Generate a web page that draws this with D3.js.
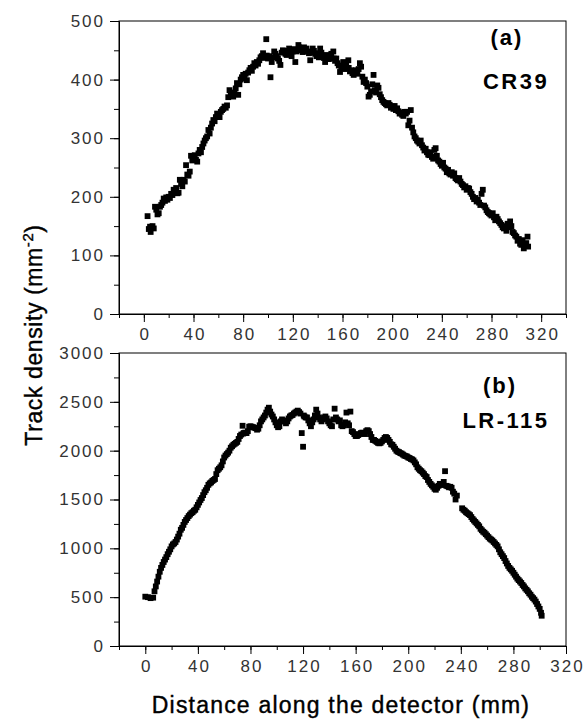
<!DOCTYPE html>
<html>
<head>
<meta charset="utf-8">
<script src="https://cdn.jsdelivr.net/npm/d3@7/dist/d3.min.js"></script>
<style>
  body { margin: 0; background: #fff; }
  svg { display: block; }
  .tick text { font-family: "Liberation Sans", Arial, sans-serif; font-size: 17px; fill: #333; letter-spacing: 2px; }
  .domain, .tick line { stroke: #000; }
</style>
</head>
<body>
<div id="chart"></div>
<script>
// CR39 track density (panel a): [distance mm, density mm^-2]
const cr39 = [
  [3,167],[4,145],[5,149],[5.5,140],[7,150],[8,146],[9,183],[10,178],[11,170],[12,172],
  [13,183],[14,186],[15,190],[16,197],[17,193],[18,199],[19,195],[20,200],[21,198],[22,205],
  [23,203],[24,212],[25,208],[26,215],[27,206],[28,207],[29,229],[30,222],[31,218],[32,229],
  [33,226],[34,254],[35,238],[36,236],[37,243],[38,270],[39,262],[40,268],[41,271],[42,263],
  [43,260],[44,274],[45,280],[46,276],[47,285],[48,291],[49,296],[50,300],[51,303],[52,314],
  [53,308],[54,318],[55,325],[56,331],[57,329],[58,336],[59,342],[60,337],[61,336],[62,345],
  [63,348],[64,350],[65,354],[66,352],[67,356],[68,370],[69,382],[70,378],[71,374],[72,371],
  [73,376],[74,385],[75,394],[76,374],[77,392],[78,400],[79,404],[80,408],[81,402],[82,410],
  [83,399],[84,412],[85,416],[86,420],[87,415],[88,422],[89,428],[90,424],[91,430],[92,427],
  [93,433],[94,438],[95,440],[96,445],[97,437],[98.6,469],[99,441],[100,436],[101,440],[102,404],
  [103,430],[104,438],[105,448],[106,444],[107,440],[108,436],[109,432],[110,425],[111,446],[112,450],
  [113,447],[114,444],[115,442],[116,449],[117,453],[118,446],[119,440],[120,448],[121,452],[122,430],
  [123,448],[124.5,459],[125,455],[126,450],[127,452],[128,447],[129,455],[130,451],[131,453],[132,448],
  [133,445],[134,433],[135,446],[136,453],[137,449],[138,444],[139,440],[140,445],[141,438],[142,453],
  [143,446],[144,440],[145,437],[146,430],[147,442],[148,438],[149,435],[150,440],[151,444],[152.6,448],
  [153,436],[154,432],[155,436],[156,428],[157,424],[158,413],[159,420],[160.6,430],[161,422],[162,418],
  [163,425],[164.7,433],[165,420],[166,414],[167,416],[168,411],[169,408],[170,414],[171,416],[172,410],
  [173,418],[174,428],[175,422],[176,405],[177,396],[178,400],[179,394],[180,388],[181,371],[182,374],
  [183,380],[184,392],[185,408],[186,382],[187,378],[188,390],[189,386],[190,375],[191,370],[192,365],
  [193,362],[194,360],[195,358],[196,356],[197,360],[198,357],[199,352],[200,354],[201,350],[202,355],
  [203,348],[204,351],[205,346],[206,342],[207,344],[208,340],[209,338],[210,345],[211,342],[212,345],
  [213,322],[214,330],[215,348],[216,318],[217,310],[218,303],[219,300],[220,296],[221,294],[222,291],
  [223,296],[224,288],[225,284],[226,279],[227,282],[228,276],[229,272],[230,271],[231,276],[232,268],
  [233,265],[234,280],[235,283],[236,270],[237,262],[238,260],[239,256],[240,253],[241,258],[242,250],
  [243,248],[244,242],[245,246],[246,240],[247,238],[248,242],[249,236],[250,240],[251,232],[252,230],
  [253,228],[254,232],[255,226],[256,222],[257,220],[258,216],[259,218],[260,212],[261,215],[262,214],
  [263,208],[264,205],[265,200],[266,196],[267,198],[268,192],[269,195],[270,190],[271,186],[272,205],
  [273,212],[274,185],[275,182],[276,177],[277,174],[278,172],[279,170],[280,168],[281,172],[282,165],
  [283,160],[284,166],[285,162],[286,158],[287,155],[288,152],[289,148],[290,146],[291,150],[292,142],
  [293,154],[294,148],[295,158],[296,150],[297,140],[298,138],[299,134],[300,132],[301,125],[302,128],
  [303,120],[304,118],[305,126],[306,112],[307,118],[308,121],[309,132],[309.5,115]
];

// LR-115 track density (panel b)
const lr115 = [
  [0,505],[2,500],[4,490],[6,495],[7,560],[8,610],[9,660],[10,710],[11,760],[12,800],
  [13,830],[14,860],[15,885],[16,910],[17,940],[18,965],[19,990],[20,1020],[21,1040],[22,1050],
  [23,1065],[24,1090],[25,1120],[26,1150],[27,1190],[28,1210],[29,1240],[30,1270],[31,1290],[32,1310],
  [33,1330],[34,1345],[35,1360],[36,1370],[37,1385],[38,1395],[39,1420],[40,1445],[41,1470],[42,1495],
  [43,1515],[44,1545],[45,1575],[46,1595],[47,1620],[48,1650],[49,1665],[50,1675],[51,1690],[52,1700],
  [53,1710],[54,1760],[55,1800],[56,1815],[57,1830],[58,1850],[59,1890],[60,1930],[61,1950],[62,1965],
  [63,1980],[64,2000],[65,2030],[66,2045],[67,2060],[68,2070],[69,2080],[70,2090],[71,2120],[72,2150],
  [73,2165],[74,2255],[74.5,2175],[75,2180],[76,2185],[77,2180],[78,2200],[79,2245],[80,2250],[81,2245],
  [82,2240],[83,2235],[84,2230],[85,2215],[86,2225],[87,2260],[88,2300],[89,2320],[90,2340],[91,2360],
  [92,2390],[93,2420],[94,2440],[95,2400],[96,2370],[97,2350],[98,2320],[99,2290],[100,2260],[101,2240],
  [102,2250],[103,2300],[104,2320],[105,2310],[106,2300],[107,2280],[108,2300],[109,2330],[110,2350],[111,2360],
  [112,2365],[113,2380],[114,2390],[115,2400],[116,2410],[117,2395],[118,2380],[119,2180],[120,2040],[120.5,2360],
  [121,2350],[122,2340],[123,2340],[124,2310],[125,2280],[126,2250],[127,2290],[128,2320],[129,2360],[130,2420],
  [131,2380],[132,2340],[133,2320],[134,2300],[135,2320],[136,2340],[137,2350],[138,2330],[139,2300],[140,2280],
  [141,2260],[142,2250],[143,2320],[144,2430],[145,2340],[146,2320],[147,2300],[148,2310],[149,2260],[150,2250],
  [151,2260],[152,2290],[153,2390],[154,2280],[155,2260],[156,2400],[157,2200],[158,2190],[159,2170],[160,2150],
  [161,2150],[162,2160],[163,2170],[164,2180],[165,2185],[166,2180],[167,2170],[168,2200],[169,2210],[170,2200],
  [171,2170],[172,2140],[173,2110],[174,2110],[175,2100],[176,2090],[177,2080],[178,2075],[179,2080],[180,2095],
  [181,2110],[182,2130],[183,2140],[184,2130],[185,2110],[186,2090],[187,2065],[188,2060],[189,2040],[190,2020],
  [191,2000],[192,1990],[193,1985],[194,1975],[195,1970],[196,1960],[197,1950],[198,1945],[199,1940],[200,1930],
  [201,1925],[202,1915],[203,1910],[204,1900],[205,1880],[206,1860],[207,1830],[208,1815],[209,1800],[210,1790],
  [211,1775],[212,1760],[213,1740],[214,1730],[215,1700],[216,1680],[217,1660],[218,1645],[219,1630],[220,1610],
  [221,1600],[222,1620],[223,1640],[224,1660],[225,1650],[226,1650],[227,1680],[228,1790],[229,1640],[230,1635],
  [231,1625],[232,1630],[233,1620],[234,1580],[235,1560],[236,1500],[237,1540],[241,1410],[242,1395],[243,1385],
  [244,1370],[245,1360],[246,1350],[247,1340],[248,1320],[249,1300],[250,1285],[251,1270],[252,1255],[253,1240],
  [254,1225],[255,1200],[256,1185],[257,1170],[258,1160],[259,1145],[260,1130],[261,1115],[262,1100],[263,1090],
  [264,1080],[265,1065],[266,1050],[267,1035],[268,1020],[269,990],[270,960],[271,940],[272,920],[273,900],
  [274,870],[275,845],[276,820],[277,800],[278,785],[279,770],[280,750],[281,730],[282,710],[283,690],
  [284,675],[285,660],[286,645],[287,625],[288,610],[289,590],[290,575],[291,560],[292,540],[293,525],
  [294,505],[295,490],[296,475],[297,455],[298,430],[299,405],[300,380],[301,340],[301.5,310]
];

const xMajor = [0, 40, 80, 120, 160, 200, 240, 280, 320];
const yMajorA = [0, 100, 200, 300, 400, 500];
const yMajorB = [0, 500, 1000, 1500, 2000, 2500, 3000];

const width = 583, height = 721;
const left = 119, right = 566;
const marker = 5.8;

const svg = d3.select('#chart').append('svg')
  .attr('width', width)
  .attr('height', height);

svg.append('rect').attr('width', width).attr('height', height).attr('fill', '#fff');

const panels = [
  {data: cr39, top: 21, bottom: 314, xDom: [-20, 340], yDom: [0, 500], yMajor: yMajorA, yStep: 50,
   label: '(a)', name: 'CR39', lx: 507, ly: 45, nx: 516, ny: 89},
  {data: lr115, top: 353, bottom: 646, xDom: [-20, 320], yDom: [0, 3000], yMajor: yMajorB, yStep: 250,
   label: '(b)', name: 'LR-115', lx: 500, ly: 393, nx: 506, ny: 428}
];

panels.forEach(p => {
  const x = d3.scaleLinear().domain(p.xDom).range([left, right]);
  const y = d3.scaleLinear().domain(p.yDom).range([p.bottom, p.top]);
  const xMinor = d3.range(p.xDom[0], p.xDom[1] + 1, 20);
  const yMinor = d3.range(p.yDom[0], p.yDom[1] + 1, p.yStep);

  // frame
  svg.append('rect')
    .attr('x', left).attr('y', p.top)
    .attr('width', right - left).attr('height', p.bottom - p.top)
    .attr('fill', 'none').attr('stroke', '#000');

  const gx = svg.append('g').attr('transform', 'translate(0,' + p.bottom + ')');
  gx.call(d3.axisBottom(x).tickValues(xMinor).tickSize(4).tickSizeOuter(0).tickFormat(''));
  gx.call(g => g.append('g').call(d3.axisBottom(x).tickValues(xMajor).tickSize(8).tickSizeOuter(0)
    .tickPadding(6).tickFormat(d3.format('d'))));
  gx.selectAll('.tick text').attr('dx', '1px');

  const gy = svg.append('g').attr('transform', 'translate(' + left + ',0)');
  gy.call(d3.axisLeft(y).tickValues(yMinor).tickSize(5).tickSizeOuter(0).tickFormat(''));
  gy.call(g => g.append('g').call(d3.axisLeft(y).tickValues(p.yMajor).tickSize(9).tickSizeOuter(0)
    .tickPadding(5).tickFormat(d3.format('d'))));

  svg.append('g').selectAll('rect')
    .data(p.data)
    .enter().append('rect')
    .attr('x', d => x(d[0]) - marker / 2)
    .attr('y', d => y(d[1]) - marker / 2)
    .attr('width', marker)
    .attr('height', marker)
    .attr('fill', '#000');

  svg.append('text')
    .attr('x', p.lx).attr('y', p.ly)
    .attr('text-anchor', 'middle')
    .style('font-family', '"Liberation Sans", Arial, sans-serif')
    .style('font-size', '22px').style('font-weight', 'bold').style('letter-spacing', '2px')
    .text(p.label);

  svg.append('text')
    .attr('x', p.nx).attr('y', p.ny)
    .attr('text-anchor', 'middle')
    .style('font-family', '"Liberation Sans", Arial, sans-serif')
    .style('font-size', '22px').style('font-weight', 'bold').style('letter-spacing', '2.5px')
    .text(p.name);
});

// axis titles
const yTitle = svg.append('text')
  .attr('transform', 'translate(42,335) rotate(-90)')
  .attr('text-anchor', 'middle')
  .style('font-family', '"Liberation Sans", Arial, sans-serif')
  .style('font-size', '23px')
  .style('stroke', '#000').style('stroke-width', '0.4px')
  .style('letter-spacing', '0.6px');
yTitle.append('tspan').text('Track density (mm');
yTitle.append('tspan').attr('dy', '-9').style('font-size', '15px').text('-2');
yTitle.append('tspan').attr('dy', '9').text(')');

svg.append('text')
  .attr('x', 341).attr('y', 713)
  .attr('text-anchor', 'middle')
  .style('font-family', '"Liberation Sans", Arial, sans-serif')
  .style('font-size', '23px')
  .style('stroke', '#000').style('stroke-width', '0.4px')
  .style('letter-spacing', '1.2px')
  .text('Distance along the detector (mm)');
</script>
</body>
</html>
